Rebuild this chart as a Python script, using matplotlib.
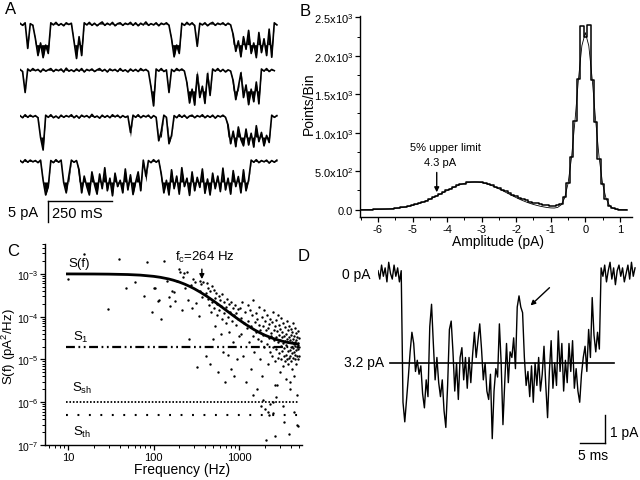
import numpy as np
import matplotlib
matplotlib.use('Agg')
import matplotlib.pyplot as plt
from matplotlib.ticker import FixedLocator, FixedFormatter, MultipleLocator, LogLocator, NullFormatter

plt.rcParams['font.family'] = ['Liberation Sans', 'DejaVu Sans']
plt.rcParams['mathtext.fontset'] = 'custom'
plt.rcParams['mathtext.rm'] = 'Liberation Sans'
plt.rcParams['mathtext.it'] = 'Liberation Sans:italic'
plt.rcParams['mathtext.default'] = 'regular'
plt.rcParams['axes.unicode_minus'] = False

### DATA
# A: four 1 s records, one sample per 10 ms, current in pA
a_dt = 10.0
a_open_level = -4.9
a_row1 = [0.2, -0.3, 0.3, -5.8, 0.1, -0.3, -3.5, -7.5, -4.5, -8.0, -5.0, -7.0,
          0.3, -0.2, 0.4, -0.3, 0.1, -0.4, 0.3, -0.1, 0.2,
          -4.0, -8.2, -3.0, -7.5,
          0.3, -0.2, 0.4, -0.3, 0.2, -0.4, 0.1, 0.5, -0.3, 0.2, -0.2, 0.4, -0.4, 0.1, 0.3, -0.3, 0.2,
          -0.1, 0.4, -0.3, 0.3, -0.4, 0.2, -0.2, 0.5, -0.3, 0.1, -0.2, 0.3, -0.4, 0.2, -0.1, 0.3, -0.3,
          -3.5, -7.8, -5.0, -7.0,
          0.2, -0.3, 0.4, -0.2, 0.3, -0.4, -5.3,
          0.2, -0.2, 0.3, -0.4, 0.1, 0.4, -0.3, 0.2, -0.1, 0.3, -0.3, 0.2, -0.2,
          -2.5, -6.5, -4.0, -7.8, -3.0, -6.0, -1.5, -7.0, -4.5, -8.0, -2.0, -6.8, -3.5, -7.5, -1.2, -7.9,
          0.3, -0.2]
a_row2 = [0.2, -0.3, -5.3,
          0.3, -0.2, 0.4, -0.1, 0.2, -0.4, 0.3, -0.2, 0.1, 0.4, -0.3, 0.2, -0.1, 0.3, -0.4, 0.5, -0.2,
          0.1, -0.3, 0.3, -0.2, 0.4, -0.4, 0.2, -0.1, 0.3, -0.3, 0.1, 0.4, -0.2, 0.2, -0.4, 0.3, -0.1,
          0.2, -0.3, 0.4, -0.2, 0.1, -0.4, 0.3, -0.2, 0.2, -0.3, 0.4, -0.1, 0.2, -0.3,
          -4.0, -8.5,
          0.3, -0.2, 0.4, -0.3, 0.1, -5.3, 0.2, -0.3, 0.4, -0.1, 0.3, -0.2,
          -3.0, -7.8, -4.5, -8.3, -1.0, -6.5, -3.8, -7.9, -0.8, -6.0,
          0.3, -0.2, 0.4, -0.3, 0.2, -0.4, 0.1, -0.2,
          -2.5, -7.0, -4.0, -0.6, -6.5, -3.5, -8.2, -4.5, -7.5, -2.8, -8.0,
          0.3, -0.2, 0.4, -0.3, 0.2, -0.1]
a_row3 = [0.2, -0.3, 0.4, -0.2, 0.3, -0.1, 0.2, -0.3, -5.0, -8.0,
          0.3, -0.2, 0.4, -0.3, 0.1, -0.4, 0.3, -0.2, 0.2, -0.1, 0.4, -0.3, 0.2, -0.4, 0.3, -0.1,
          0.2, -0.3, 0.5, -0.2, 0.1, -0.4, 0.3, -0.2, 0.2, -0.3, 0.4, -0.1, 0.3, -0.3, 0.2, -0.2, 0.1,
          -3.8,
          0.3, -0.2, 0.4, -0.3, 0.2, -0.1, 0.3, -0.4, 0.2, -0.2,
          -5.8, -3.5, 0.3, -0.2, -6.5, -4.5,
          0.2, -0.3, 0.4, -0.2, 0.3, -0.4, 0.1, 0.3, -0.3, 0.2, -0.1, 0.4, -0.3, 0.2, -0.2, 0.3,
          -0.4, 0.2, -0.1, 0.3, -0.2,
          -2.0, -6.5, -3.5, -7.2, -2.5, -5.5, -7.0, -3.0, -6.8, -4.0, -7.3, -2.2, -6.0, -3.8, -7.0,
          -4.5, -6.2,
          0.3, -0.2, 0.2]
a_row4 = [0.2, -0.3, 0.4, -0.2, 0.3, -0.1, 0.2, -0.3, 0.3,
          -4.5, -8.0, -6.0,
          0.2, -0.3, 0.4, -0.2, 0.3,
          -5.0, -7.5, -3.5,
          0.3, -0.2, 0.2,
          -2.0, -7.5, -3.5, -6.0, -8.0, -2.5, -5.5, -7.8, -3.0, -6.5, -1.5, -7.0, -4.0, -8.2, -2.8,
          -6.0, -4.5, -7.5, -1.8, -6.8, -3.2, -7.9, -5.0, -2.5, -7.0,
          0.3, -3.5, 0.2, -0.3, 0.4, -0.2, 0.3,
          -3.0, -7.5, -4.5, -8.0, -2.0, -6.5, -3.5, -7.8, -1.5, -6.0, -4.0, -8.1, -2.5, -7.0, -3.8,
          -6.2, -1.8, -7.6, -4.2, -8.0, -2.8, -6.5, -3.5, -7.2, -1.6, -6.8, -4.0, -7.8, -2.2, -6.0,
          -3.6, -7.5, -2.0, -7.0, -4.4,
          0.3, -0.2, 0.4, -0.3, 0.2, -0.1, 0.3, -0.4, 0.2, -0.2, 0.3]
a_rows = [a_row1, a_row2, a_row3, a_row4]

# B: amplitude histogram (bins of 0.1 pA starting at -6.5 pA) and two-Gaussian fit
b_first_bin = -6.5
b_bin_width = 0.1
b_hist = [1, 1, 2, 2, 3, 4, 5, 7, 10, 13,
          17, 22, 29, 36, 44, 56, 68, 84, 99, 118,
          138, 160, 177, 203, 230, 255, 268, 290, 315, 333,
          340, 355, 362, 358, 364, 355, 348, 333, 320, 300,
          281, 262, 240, 218, 197, 176, 156, 138, 122, 106,
          93, 82, 72, 64, 56, 52, 50, 55, 80, 160,
          345, 680, 1150, 1700, 2390, 2250, 2400, 1690, 1140, 665,
          330, 140, 52, 18, 6, 2, 1, 0]
b_fit = [0.7, 1.0, 1.4, 2.0, 2.8, 3.9, 5.3, 7.2, 9.7, 12.9,
         16.9, 21.9, 28, 35.6, 44.6, 55.4, 67.7, 82, 98, 116,
         135, 157, 179, 202, 225, 249, 271, 292, 312, 328,
         342, 352, 358, 360, 358, 352, 342, 328, 312, 292,
         271, 249, 225, 202, 179, 157, 135, 116, 98, 82,
         67.7, 55.4, 44.6, 35.6, 28, 23, 21.4, 29.7, 62.7, 151,
         341, 676, 1155, 1693, 2131, 2301, 2130, 1691, 1152, 672,
         336, 144, 53, 16.8, 4.5, 1.1, 0.2, 0.0]
b_yticks = [0, 500, 1000, 1500, 2000, 2500]
b_yticklabels = ['0.0', '5.0x10$^2$', '1.0x10$^3$', '1.5x10$^3$', '2.0x10$^3$', '2.5x10$^3$']
b_limit = -4.3

# C: power spectrum points (Hz, pA^2/Hz)
c_freq = [10, 15.2, 29, 39, 48, 61, 78, 83, 96, 100,
          105, 112, 117, 123, 131, 143, 150, 156, 165, 171,
          180, 190, 196, 205, 213, 220, 228, 235, 244, 252,
          261, 270, 280, 290, 306, 315, 324, 337, 345, 351,
          360, 370, 380,
          405, 412, 420, 428, 436, 445, 452, 460, 468, 476,
          485, 494, 502, 510, 520, 528, 538, 546, 555, 565,
          575, 585, 595, 605, 616, 626, 637, 648, 659, 670,
          682, 694, 706, 718, 730, 742, 755, 768, 781, 795,
          808, 822, 836, 850, 864, 879, 894, 909, 925, 940,
          956, 972, 988,
          1010, 1035, 1062, 1088, 1115, 1140, 1168, 1195, 1222, 1250,
          1276, 1304, 1330, 1358, 1385, 1412, 1440, 1466, 1494, 1520,
          1548, 1575, 1602, 1630, 1656, 1684, 1710, 1738, 1765, 1792,
          1820, 1846, 1874, 1900, 1928, 1955, 1982, 2010, 2036, 2064,
          2090, 2118, 2145, 2172, 2200, 2226, 2254, 2280, 2308, 2335,
          2362, 2390, 2416, 2444, 2470, 2498, 2525, 2552, 2580, 2606,
          2634, 2660, 2688, 2715, 2742, 2770, 2796, 2824, 2850, 2878,
          2905, 2932, 2960, 2986, 3014, 3040, 3068, 3095, 3122, 3150,
          3176, 3204, 3230, 3258, 3285, 3312, 3340, 3366, 3394, 3420,
          3448, 3475, 3502, 3530, 3556, 3584, 3610, 3638, 3665, 3692,
          3720, 3746, 3774, 3800, 3828, 3855, 3882, 3910, 3936, 3964,
          3990, 4018, 4045, 4072, 4100, 4126, 4154, 4180, 4208, 4235,
          4262, 4290, 4316, 4344, 4370, 4398, 4425, 4452, 4480, 4506,
          4534, 4560, 4588, 4615, 4642, 4670, 4696, 4724, 4750, 4778,
          4805, 4832, 4860, 4886, 4914, 4940, 4968, 4995,
          1780, 1900, 2150, 2300, 2480, 2700, 3200, 4400, 1450, 2600, 3900, 4850]
c_psd = [7.6e-4, 2.9e-3, 1.5e-4, 2.2e-3, 4.6e-4, 6.4e-4, 3.1e-4, 1.9e-3, 1.26e-4, 4.6e-4,
         4.6e-4, 2.3e-4, 2.4e-4, 8.9e-5, 2.0e-3, 6.9e-4, 2.9e-4, 1.8e-4, 4.0e-4, 3.7e-4,
         2.3e-4, 7.0e-4, 1.3e-3, 1.1e-3, 1.4e-4, 8.3e-4, 1.05e-3, 4.8e-4, 1.1e-3, 2.5e-4,
         3.0e-5, 5.5e-4, 1.6e-4, 7.5e-4, 6.4e-4, 2.1e-4, 6.5e-6, 1.05e-4, 4.0e-4, 6.9e-4,
         5.8e-4, 2.9e-4, 6.5e-4,
         3.5e-4, 1.2e-5, 6.0e-4, 2.6e-4, 4.8e-4, 1.9e-4, 8.0e-6, 3.9e-4, 1.3e-4, 5.2e-4,
         2.2e-4, 3.0e-5, 4.2e-4, 1.6e-4, 2.8e-4, 6.0e-5, 3.6e-4, 1.1e-4, 2.0e-4, 5.0e-6,
         3.0e-4, 1.4e-4, 2.4e-4, 4.0e-5, 1.8e-4, 3.3e-4, 9.0e-5, 1.5e-5, 2.2e-4, 1.2e-4,
         3.0e-6, 1.7e-4, 7.0e-5, 2.6e-4, 1.3e-5, 1.0e-4, 2.0e-4, 4.5e-5, 1.3e-4, 6.0e-6,
         2.2e-4, 8.0e-5, 1.6e-4, 2.5e-5, 1.1e-4, 4.0e-6, 1.9e-4, 6.5e-5, 1.2e-4, 1.0e-5,
         9.0e-5, 1.5e-4, 3.5e-5,
         1.6e-4, 4.0e-5, 9.5e-5, 2.2e-4, 1.2e-5, 7.0e-5, 1.3e-4, 3.0e-6, 5.5e-5, 1.9e-4,
         8.0e-5, 2.5e-5, 1.4e-4, 6.0e-6, 6.2e-5, 1.1e-4, 3.5e-5, 2.4e-4, 1.5e-5, 7.5e-5,
         4.5e-5, 1.2e-4, 2.0e-6, 9.0e-5, 3.0e-5, 6.5e-5, 1.7e-4, 1.0e-5, 5.0e-5, 2.7e-5,
         1.0e-4, 4.2e-6, 6.0e-5, 3.8e-5, 1.4e-4, 2.0e-5, 7.0e-7, 8.0e-5, 1.3e-7, 4.8e-5,
         2.3e-5, 1.1e-4, 5.5e-5, 8.0e-6, 3.2e-5, 6.8e-5, 5.0e-7, 1.5e-5, 9.0e-5, 3.6e-5,
         4.2e-5, 1.2e-5, 7.5e-5, 2.0e-5, 1.3e-4, 1.0e-6, 5.0e-5, 2.8e-5, 1.6e-7, 6.0e-5,
         9.0e-6, 3.4e-5, 8.5e-5, 1.8e-5, 4.6e-5, 2.5e-6, 2.6e-5, 1.1e-4, 1.1e-5, 3.8e-5,
         6.5e-5, 1.4e-5, 2.9e-5, 5.0e-6, 5.2e-5, 2.1e-5, 9.5e-5, 1.0e-5, 3.3e-5, 1.6e-5,
         4.4e-5, 7.0e-6, 2.4e-5, 7.0e-5, 1.2e-5, 3.5e-7, 3.6e-5, 1.9e-5, 5.8e-5, 9.0e-6,
         2.7e-5, 1.3e-5, 4.0e-5, 3.5e-6, 2.2e-5, 8.0e-5, 1.0e-5, 3.0e-5, 1.6e-5, 4.8e-5,
         8.0e-6, 2.5e-5, 6.2e-5, 1.1e-5, 1.8e-7, 3.4e-5, 1.7e-5, 2.0e-6, 2.8e-5, 1.2e-5,
         5.2e-5, 2.0e-5, 9.0e-6, 3.8e-5, 1.4e-5, 2.6e-5, 6.0e-6, 4.4e-5, 1.9e-5, 1.1e-5,
         3.0e-5, 7.0e-5, 1.5e-5, 2.3e-5, 4.0e-6, 3.6e-5, 1.0e-5, 2.1e-5, 5.5e-5, 1.3e-5,
         2.6e-5, 8.0e-6, 4.2e-5, 1.7e-5, 2.9e-5, 3.0e-7, 1.2e-5, 3.3e-5, 2.0e-5, 1.5e-6,
         2.4e-5, 1.0e-5, 4.6e-5, 1.8e-5, 2.2e-5, 1.2e-5, 3.1e-5, 2.0e-5,
         8e-7, 1.1e-6, 6e-7, 9e-7, 5.5e-7, 1.3e-6, 8e-7, 6e-7, 1.5e-6, 2.5e-6, 3.0e-6, 2.8e-7]
# Lorentzian fit
c_fit_freq = [9.5, 20, 30, 50, 70, 100, 120, 150, 170, 200, 230, 264, 300, 350, 420,
              500, 600, 700, 850, 1000, 1200, 1500, 1750, 2000, 2500, 3000, 3500, 4000, 4500, 5000]
c_fit_psd = [9.99e-4, 9.94e-4, 9.87e-4, 9.66e-4, 9.36e-4, 8.77e-4, 8.32e-4, 7.61e-4, 7.13e-4,
             6.43e-4, 5.77e-4, 5.10e-4, 4.48e-4, 3.75e-4, 2.98e-4, 2.34e-4, 1.79e-4, 1.42e-4,
             1.06e-4, 8.38e-5, 6.52e-5, 4.94e-5, 4.18e-5, 3.68e-5, 3.08e-5, 2.75e-5, 2.55e-5,
             2.43e-5, 2.34e-5, 2.27e-5]
c_span = [9.5, 5000]
c_s1 = 2e-5
c_ssh = 1e-6
c_sth = 5e-7

# D: single opening, one sample per 0.357 ms, current in pA
d_dt = 0.357
d_current = [0.1, -0.2, 0.3, -0.1, 0.2, -0.3, 0.4, 0.0, -0.2, 0.3, -0.1, 0.2, -0.3, 0.1,
             -4.6, -5.3, -4.5, -3.7, -2.8, -2.1, -2.5, -3.5, -3.1, -3.6, -3.3, -4.3, -4.8, -3.8,
             -4.4, -1.9, -1.1, -2.5, -3.8, -3.0, -3.9, -4.4, -3.8, -4.9, -5.5, -4.0, -2.0, -1.7,
             -2.8, -4.2, -3.2, -4.5, -3.0, -2.65, -3.8, -3.0, -4.1, -3.0, -3.9, -2.9, -2.1, -3.0,
             -2.4, -1.8, -2.7, -3.8, -3.2, -4.2, -4.5, -3.6, -5.9, -4.2, -3.4,
             -3.7, -1.8, -3.2, -5.4, -3.9, -2.5, -3.9, -2.8, -3.0, -2.3,
             -3.4, -1.2, -0.8, -1.2, -1.4, -3.0, -4.0, -3.5, -4.4, -3.3,
             -4.6, -3.2, -4.0, -3.0, -4.2, -3.6, -2.6, -4.0, -5.15, -3.5,
             -2.4, -4.1, -3.2, -4.0, -2.05, -3.5, -2.5, -4.2, -3.1, -3.9,
             -2.5, -3.5, -2.4, -4.1, -3.4, -4.2, -4.6, -3.6, -3.0, -2.6,
             -3.5, -2.0, -3.0, -0.86, -2.2, -2.8, -2.1, -2.7,
             0.2, -0.1, 0.3, -0.3, 0.1, 0.4, -0.2, 0.2, -0.4, 0.1,
             0.3, -0.1, 0.2, -0.3, 0.0, 0.3, -0.2, 0.4, -0.1, 0.2]
d_level = -3.2

W, H = 640, 481
fig = plt.figure(figsize=(W / 100, H / 100), dpi=100)


def box(x0, y0, x1, y1):
    # pixel box (top-left origin) -> figure fraction rect
    return [x0 / W, 1 - y1 / H, (x1 - x0) / W, (y1 - y0) / H]


def label(x, y, s, **kw):
    kw.setdefault('va', 'center')
    fig.text(x / W, 1 - y / H, s, **kw)


### A: raw records (ink between the trace and its closed/open level, so the noise reads as spikes)
ax_a = fig.add_axes(box(20, 15, 282, 230))
a_offsets = [0, -11, -22, -32.7]
for row, off in zip(a_rows, a_offsets):
    r = np.array(row)
    t = np.arange(len(r)) * a_dt
    level = np.where(r < -1.0, a_open_level, 0.0)
    ax_a.fill_between(t, r + off, level + off, color='k', lw=0)
    ax_a.plot(t, r + off, color='k', lw=1.2)
ax_a.plot([109, 359], [-42.1, -42.1], color='k', lw=1.0, clip_on=False)
ax_a.plot([109, 109], [-42.1, -47.1], color='k', lw=1.0, clip_on=False)
ax_a.set_xlim(0, 1020)
ax_a.set_ylim(-48.8, 2.4)
ax_a.axis('off')
label(38, 213, '5 pA', ha='right', fontsize=10.5)
label(52, 214, '250 mS', ha='left', fontsize=10.5)

### B: amplitude histogram
b_amp = b_first_bin + b_bin_width * np.arange(len(b_hist))
ax_b = fig.add_axes(box(360, 17, 632, 218))
ax_b.step(b_amp, b_hist, where='mid', color='k', lw=1.1)
ax_b.plot(b_amp, b_fit, color='k', lw=0.6)
ax_b.set_xlim(-6.52, 1.35)
ax_b.set_ylim(-95, 2517)
ax_b.xaxis.set_major_locator(MultipleLocator(1))
ax_b.xaxis.set_minor_locator(MultipleLocator(0.5))
ax_b.yaxis.set_major_locator(FixedLocator(b_yticks))
ax_b.yaxis.set_major_formatter(FixedFormatter(b_yticklabels))
ax_b.yaxis.set_minor_locator(MultipleLocator(250))
ax_b.annotate('', xy=(b_limit, 190), xytext=(b_limit, 520),
              arrowprops=dict(arrowstyle='-|>', color='k', lw=1.0, mutation_scale=7))
label(445, 148, '5% upper limit', ha='center', fontsize=8)
label(440, 163, '4.3 pA', ha='center', fontsize=8)
label(498, 242, 'Amplitude (pA)', ha='center', fontsize=10)
label(309, 104, 'Points/Bin', ha='center', fontsize=10, rotation=90)

### C: power spectrum
ax_c = fig.add_axes(box(45, 245, 302, 446))
ax_c.set_xscale('log')
ax_c.set_yscale('log')
ax_c.scatter(c_freq, c_psd, s=3.0, color='k', lw=0)
ax_c.plot(c_fit_freq, c_fit_psd, color='k', lw=2.0, solid_capstyle='butt')
ax_c.plot(c_span, [c_s1, c_s1], color='k', lw=1.6, linestyle=(0, (4, 1.6, 0.8, 1.6, 0.8, 1.6)))
ax_c.plot(c_span, [c_ssh, c_ssh], color='k', lw=1.3, linestyle=(0, (0.9, 1.0)))
ax_c.plot(c_span, [c_sth, c_sth], color='k', lw=1.5, linestyle=(0, (0.9, 4.6)))
ax_c.set_xlim(5.4, 5400)
ax_c.set_ylim(1e-7, 5e-3)
ax_c.xaxis.set_major_locator(FixedLocator([10, 100, 1000]))
ax_c.xaxis.set_major_formatter(FixedFormatter(['10', '100', '1000']))
ax_c.xaxis.set_minor_locator(LogLocator(base=10, subs=np.arange(2, 10)))
ax_c.xaxis.set_minor_formatter(NullFormatter())
ax_c.yaxis.set_major_locator(FixedLocator([1e-7, 1e-6, 1e-5, 1e-4, 1e-3]))
ax_c.yaxis.set_major_formatter(FixedFormatter(['10$^{-7}$', '10$^{-6}$', '10$^{-5}$',
                                               '10$^{-4}$', '10$^{-3}$']))
ax_c.yaxis.set_minor_locator(LogLocator(base=10, subs=np.arange(2, 10)))
ax_c.yaxis.set_minor_formatter(NullFormatter())
ax_c.annotate('', xy=(366, 6.5e-4), xytext=(366, 1.5e-3),
              arrowprops=dict(arrowstyle='-|>', color='k', lw=1.0, mutation_scale=7))
label(68, 264, 'S(f)', ha='left', fontsize=9.5)
label(175, 257, 'f$_c$=264 Hz', ha='left', fontsize=9.5)
label(73, 337, 'S$_1$', ha='left', fontsize=9.5)
label(72, 388, 'S$_{sh}$', ha='left', fontsize=9.5)
label(73, 432, 'S$_{th}$', ha='left', fontsize=9.5)
label(182, 470, 'Frequency (Hz)', ha='center', fontsize=10)
label(9, 347, 'S(f) (pA$^2$/Hz)', ha='center', fontsize=9.5, rotation=90)

for ax in (ax_b, ax_c):
    ax.spines['top'].set_visible(False)
    ax.spines['right'].set_visible(False)
    for s in ('left', 'bottom'):
        ax.spines[s].set_linewidth(1.0)
    ax.tick_params(which='major', direction='out', length=3.5, width=0.9, labelsize=8, pad=1.5)
    ax.tick_params(which='minor', direction='out', length=2, width=0.7)
ax_c.tick_params(axis='y', which='major', labelsize=7.5, pad=1)

### D: single opening
ax_d = fig.add_axes(box(378, 262, 637, 450))
d_time = np.arange(len(d_current)) * d_dt
ax_d.plot(d_time, d_current, color='k', lw=1.0)
ax_d.plot([2.4, 47.2], [d_level, d_level], color='k', lw=1.2, clip_on=False)
ax_d.plot([45.4, 45.4], [-5.05, -6.05], color='k', lw=1.0, clip_on=False)
ax_d.plot([40.4, 45.4], [-6.05, -6.05], color='k', lw=1.0, clip_on=False)
ax_d.annotate('', xy=(30.1, -1.21), xytext=(34.7, -0.44),
              arrowprops=dict(arrowstyle='-|>', color='k', lw=1.0, mutation_scale=7))
ax_d.set_xlim(0, 51.8)
ax_d.set_ylim(-6.27, 0.446)
ax_d.axis('off')
label(370, 275, '0 pA', ha='right', fontsize=10)
label(384, 363, '3.2 pA', ha='right', fontsize=10)
label(610, 433, '1 pA', ha='left', fontsize=10)
label(593, 456, '5 ms', ha='center', fontsize=10)

# panel letters
label(5, 9, 'A', ha='left', fontsize=12)
label(300, 12, 'B', ha='left', fontsize=12)
label(7, 252, 'C', ha='left', fontsize=12)
label(298, 257, 'D', ha='left', fontsize=12)

fig.savefig('out.png', dpi=100)
